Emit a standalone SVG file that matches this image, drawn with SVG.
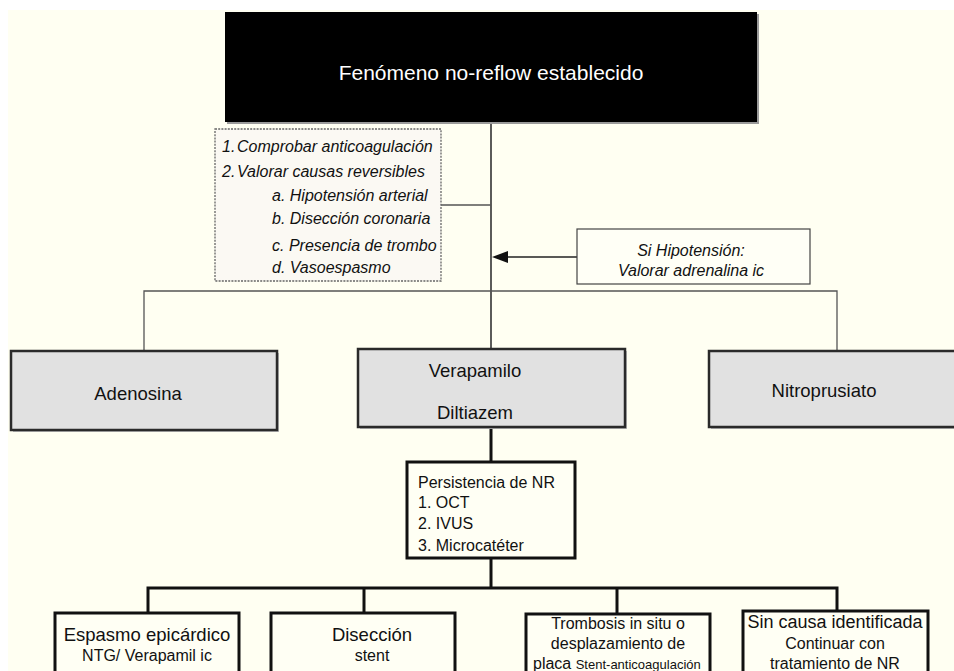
<svg xmlns="http://www.w3.org/2000/svg" width="954" height="671" viewBox="0 0 954 671">
<defs>
<style>
.t{font-family:"Liberation Sans",Arial,sans-serif;fill:#111}
.it{font-style:italic;font-size:16px}
.gray{fill:#e1e1e1;stroke:#2a2a2a;stroke-width:2.5}
.sh{fill:#bdbdbd}
.wb{fill:#fffff4;stroke:#111;stroke-width:3}
.thin{stroke:#555;stroke-width:1.3;fill:none}
.thick{stroke:#111;stroke-width:3;fill:none}
</style>
<marker id="ah" markerWidth="10" markerHeight="10" refX="9" refY="5" orient="auto" markerUnits="userSpaceOnUse" viewBox="0 0 10 10">
<path d="M0,0 L10,5 L0,10 z" fill="#111"/>
</marker>
</defs>
<rect x="0" y="0" width="954" height="671" fill="#ffffff"/>
<rect x="8" y="10" width="946" height="661" fill="#fffff2"/>

<g id="connectors">
<line class="thin" x1="491" y1="122" x2="491" y2="349" style="stroke:#333;stroke-width:1.6"/>
<line class="thin" x1="441" y1="205" x2="491" y2="205"/>
<line class="thin" x1="577" y1="257" x2="508" y2="257" style="stroke:#222"/>
<path d="M492,257 L508,251 L508,263 z" fill="#111"/>
<polyline class="thin" points="144,351 144,291 837,291 837,351"/>
<line class="thick" x1="491" y1="428" x2="491" y2="462"/>
<line class="thick" x1="491" y1="558" x2="491" y2="588"/>
<polyline class="thick" points="148,613 148,588 837,588 837,611"/>
<line class="thick" x1="364" y1="588" x2="364" y2="613"/>
<line class="thick" x1="617" y1="588" x2="617" y2="614"/>
</g>

<g id="n-top">
<rect x="227" y="14" width="532" height="110" fill="#9a9a9a"/>
<rect x="225" y="12" width="532" height="110" fill="#000"/>
<text x="491" y="80" text-anchor="middle" class="t" style="fill:#fff;font-size:21px">Fenómeno no-reflow establecido</text>
</g>

<g id="n-causas">
<rect x="215" y="129" width="226" height="152" fill="#fbf9f3" stroke="#666" stroke-width="1.3" stroke-dasharray="2,1.2"/>
<text class="t it" x="222" y="152">1.</text>
<text class="t it" x="237" y="152">Comprobar anticoagulación</text>
<text class="t it" x="222" y="177">2.</text>
<text class="t it" x="237" y="177">Valorar causas reversibles</text>
<text class="t it" x="272" y="201">a. Hipotensión arterial</text>
<text class="t it" x="272" y="224">b. Disección coronaria</text>
<text class="t it" x="272" y="251">c. Presencia de trombo</text>
<text class="t it" x="272" y="273">d. Vasoespasmo</text>
</g>

<g id="n-hipo">
<rect x="577" y="229" width="233" height="55" fill="#fffff6" stroke="#444" stroke-width="1.2"/>
<text class="t it" x="691" y="256" text-anchor="middle">Si Hipotensión:</text>
<text class="t it" x="691" y="276" text-anchor="middle">Valorar adrenalina ic</text>
</g>

<g id="n-adenosina">
<rect class="sh" x="13" y="353" width="266" height="79"/>
<rect class="gray" x="11" y="351" width="266" height="79"/>
<text class="t" x="138" y="400" text-anchor="middle" style="font-size:18.5px">Adenosina</text>
</g>

<g id="n-verapamilo">
<rect class="sh" x="360" y="351" width="267" height="78"/>
<rect class="gray" x="358" y="349" width="267" height="78"/>
<text class="t" x="475" y="377" text-anchor="middle" style="font-size:18.5px">Verapamilo</text>
<text class="t" x="475" y="419" text-anchor="middle" style="font-size:18.5px">Diltiazem</text>
</g>

<g id="n-nitro">
<rect class="sh" x="711" y="353" width="260" height="76"/>
<rect class="gray" x="709" y="351" width="260" height="76"/>
<text class="t" x="824" y="397" text-anchor="middle" style="font-size:18.5px">Nitroprusiato</text>
</g>

<g id="n-persistencia">
<rect class="wb" x="407" y="462" width="168" height="96"/>
<text class="t" x="418" y="488" style="font-size:16px">Persistencia de NR</text>
<text class="t" x="418" y="508" style="font-size:16px">1. OCT</text>
<text class="t" x="418" y="529" style="font-size:16px">2. IVUS</text>
<text class="t" x="418" y="551" style="font-size:16px">3. Microcatéter</text>
</g>

<g id="n-espasmo">
<rect class="wb" x="55" y="613" width="184" height="70"/>
<text class="t" x="147" y="641" text-anchor="middle" style="font-size:18.5px">Espasmo epicárdico</text>
<text class="t" x="147" y="661" text-anchor="middle" style="font-size:16px">NTG/ Verapamil ic</text>
</g>

<g id="n-diseccion">
<rect class="wb" x="271" y="613" width="184" height="70"/>
<text class="t" x="372" y="641" text-anchor="middle" style="font-size:18.5px">Disección</text>
<text class="t" x="372" y="661" text-anchor="middle" style="font-size:16px">stent</text>
</g>

<g id="n-trombosis">
<rect class="wb" x="526" y="614" width="184" height="70"/>
<text class="t" x="618" y="629" text-anchor="middle" style="font-size:16px">Trombosis in situ o</text>
<text class="t" x="618" y="649" text-anchor="middle" style="font-size:16px">desplazamiento de</text>
<text class="t" x="533" y="669" style="font-size:16px">placa <tspan style="font-size:13px">Stent-anticoagulación</tspan></text>
</g>

<g id="n-sincausa">
<rect class="wb" x="743" y="611" width="185" height="72"/>
<text class="t" x="835" y="628" text-anchor="middle" style="font-size:18px">Sin causa identificada</text>
<text class="t" x="835" y="649" text-anchor="middle" style="font-size:16px">Continuar con</text>
<text class="t" x="835" y="669" text-anchor="middle" style="font-size:16px">tratamiento de NR</text>
</g>
</svg>
